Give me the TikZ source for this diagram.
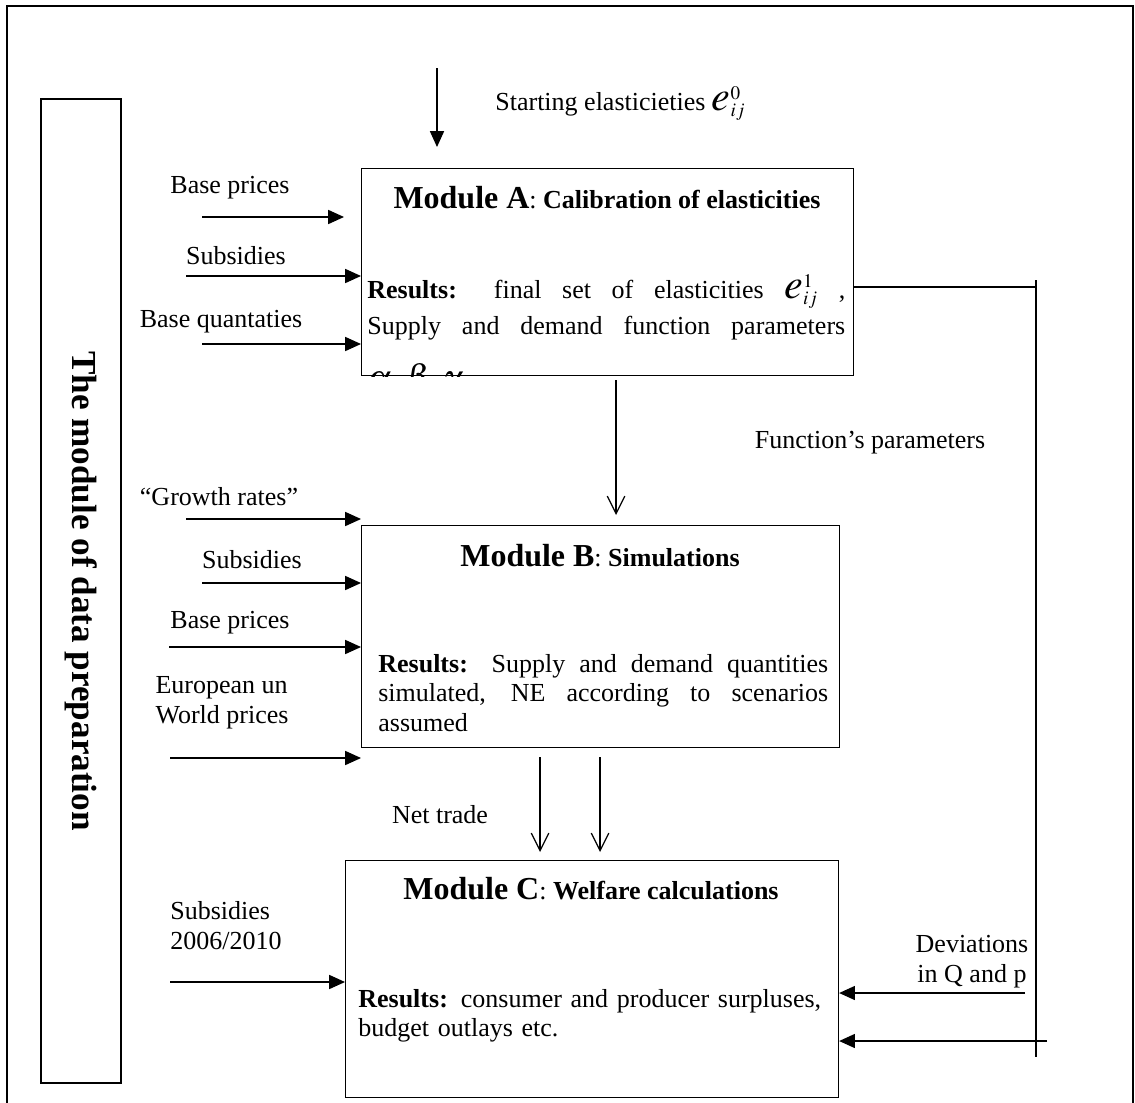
\documentclass[tikz,border=0pt]{standalone}
\usepackage{mathptmx}
\usepackage{fontspec}
\setmainfont{Liberation Serif}
\usetikzlibrary{calc, positioning}
\usetikzlibrary{arrows.meta}

\tikzset{
  lbl/.style={font=\fontsize{14.8}{17}\selectfont, align=center, inner sep=0pt},
  restext/.style={font=\fontsize{14.8}{17}\selectfont, align=justify, inner sep=0pt, anchor=base west},
  modbox/.style={draw, line width=0.7pt, anchor=north west, inner sep=0pt},
  feed/.style={line width=0.7pt},
  inarrow/.style={line width=0.7pt, -{Triangle[length=9pt,width=8pt]}},
  openarrow/.style={line width=0.7pt, -{Straight Barb[length=10pt,width=10pt]}},
}
\newcommand{\modtitle}[2]{\textbf{\fontsize{18.2}{20}\selectfont Module #1}: \textbf{#2}}
\newcommand{\bige}[1]{$\hbox{\fontsize{24}{24}\selectfont$e$}^{#1}_{ij}$}

\begin{document}
\begin{tikzpicture}[x=0.02cm, y=-0.02cm]
\useasboundingbox (0,0) rectangle (1135,1102);
\draw[line width=0.9pt] (7,1110) -- (7,6) -- (1133,6) -- (1133,1110);

% modules
\node[modbox, minimum width=9.84cm, minimum height=4.14cm] (modA) at (361,168) {};
\node[modbox, minimum width=9.56cm, minimum height=4.44cm] (modB) at (361,525) {};
\node[modbox, minimum width=9.86cm, minimum height=4.74cm] (modC) at (345,860) {};
\node[draw, line width=0.7pt, rotate=-90, minimum width=19.68cm, minimum height=1.6cm,
  inner sep=0pt, font=\fontsize{20}{24}\selectfont\bfseries] (prep) at (81,591)
  {The module of data preparation};

\node[lbl] (titA) at (607,198) {\modtitle{A}{Calibration of elasticities}};
\node[lbl] (titB) at (600,556) {\modtitle{B}{Simulations}};
\node[lbl] (titC) at (591,889) {\modtitle{C}{Welfare calculations}};

\begin{scope}
\clip (modA.north west) rectangle (modA.south east);
\node[restext, text width=9.56cm, font=\fontsize{14.8}{21}\selectfont] (resA) at (367,298)
  {\textbf{Results:} final set of elasticities \bige{1} ,\linebreak
   Supply and demand function parameters\vspace{10pt}\linebreak
   {\fontsize{20}{20}\selectfont$\alpha, \beta, \gamma$}};
\end{scope}
\node[restext, text width=9cm] (resB) at (378,672)
  {\textbf{Results:} Supply and demand quantities\linebreak
   simulated, NE according to scenarios\linebreak assumed};
\node[restext, text width=9.6cm, align=left] (resC) at (358,1007)
  {\textbf{Results:} consumer and producer surpluses,\\ budget outlays etc.};

% inputs
\coordinate (topS) at (437,68);
\coordinate (topE) at (437,147);
\draw[inarrow] (topS) -- (topE);
\node[lbl, anchor=base west] (start) at (495,110) {Starting elasticieties \bige{0}};

\node[lbl] (bpA) at (230,188) {Base prices};
\node[lbl] (subA) at (236,256) {Subsidies};
\node[lbl] (bqA) at (221,322) {Base quantaties};
\foreach \i/\x/\y in {1/202/217, 2/186/276, 3/202/344} {
  \coordinate (inA\i) at (\x,\y);
}
\draw[inarrow, shorten >=0.34cm] (inA1) -- (inA1 -| modA.west);
\draw[inarrow] (inA2) -- (inA2 -| modA.west);
\draw[inarrow] (inA3) -- (inA3 -| modA.west);

\node[lbl] (grB) at (219,497) {``Growth rates''};
\node[lbl] (subB) at (252,560) {Subsidies};
\node[lbl] (bpB) at (230,623) {Base prices};
\node[lbl, align=left] (wpB) at (222,703) {European un\\World prices};
\foreach \i/\x/\y in {1/186/519, 2/202/583, 3/169/647, 4/170/758} {
  \coordinate (inB\i) at (\x,\y);
  \draw[inarrow] (inB\i) -- (inB\i -| modB.west);
}

\node[lbl, align=left, anchor=west] (subC) at (170,926) {Subsidies\\2006/2010};
\coordinate (inC) at (170,982);
\draw[inarrow] (inC) -- (inC -| modC.west);

% between modules
\coordinate (abS) at (616,380);
\draw[openarrow, shorten >=0.2cm] (abS) -- (abS |- modB.north);
\node[lbl] (net) at (440,815) {Net trade};
\foreach \x in {540, 600} {
  \coordinate (bcS) at (\x,757);
  \draw[openarrow, shorten >=0.16cm] (bcS) -- (bcS |- modC.north);
}

% feedback on the right
\coordinate (fbTop) at (1036,280);
\coordinate (fbBot) at (1036,1057);
\coordinate (fbA) at (1036,287);
\draw[feed] (fbTop) -- (fbBot);
\draw[feed] (fbA -| modA.east) -- (fbA);
\node[lbl] (funp) at (870,443) {Function’s parameters};
\node[lbl] (dev) at (972,962) {Deviations\\in Q and p};
\coordinate (devS) at (1025,993);
\coordinate (fbC) at (1047,1041);
\draw[inarrow] (devS) -- (devS -| modC.east);
\draw[inarrow] (fbC) -- (fbC -| modC.east);
\end{tikzpicture}
\end{document}
